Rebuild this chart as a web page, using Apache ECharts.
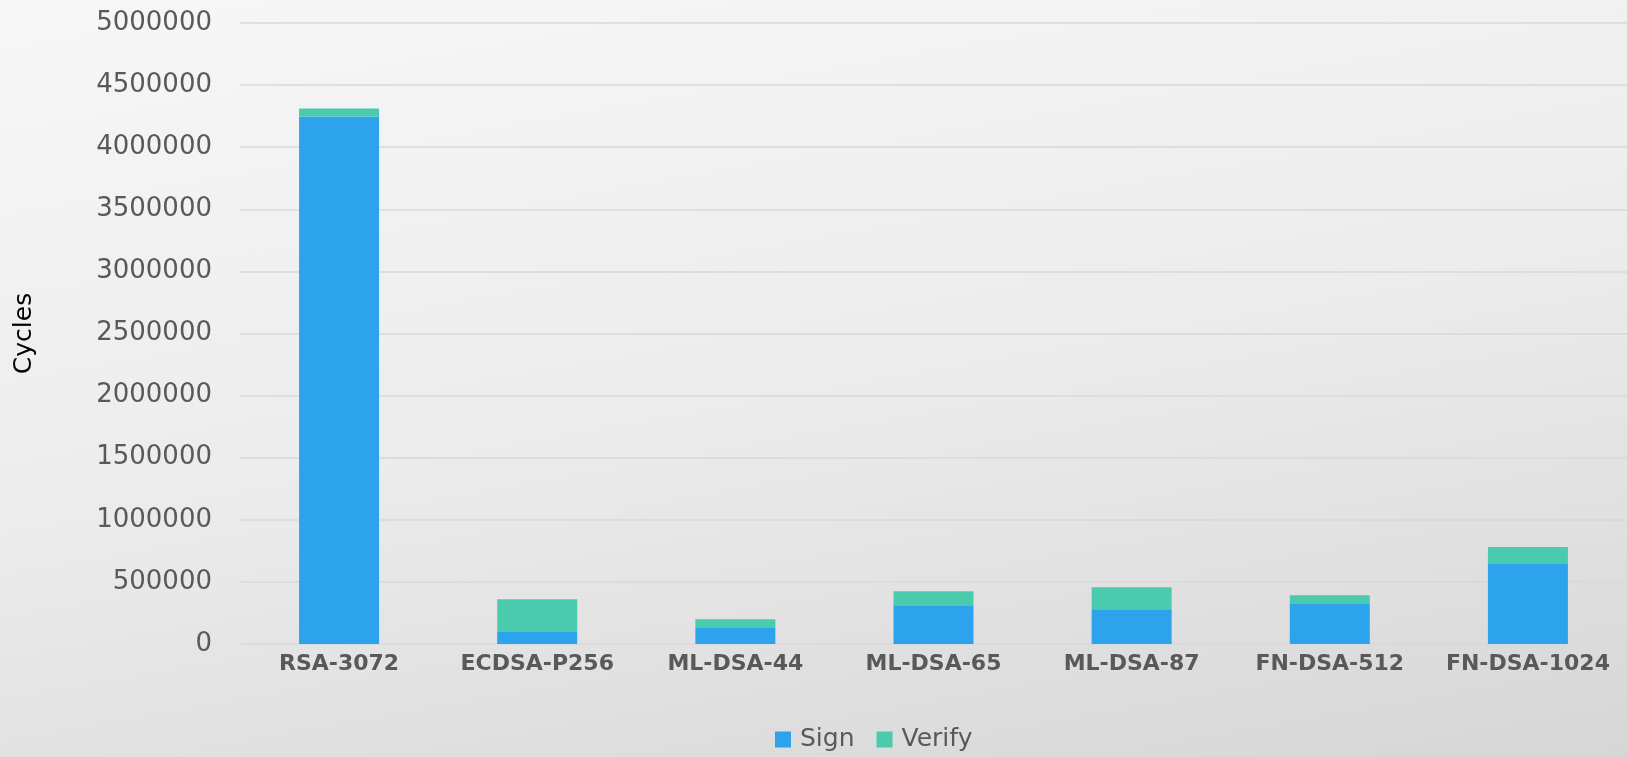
<!DOCTYPE html>
<html>
<head>
<meta charset="utf-8">
<script src="https://cdn.jsdelivr.net/npm/echarts@6/dist/echarts.min.js"></script>
<style>
  html, body { margin: 0; padding: 0; }
  #main {
    width: 1627px; height: 757px;
    background: linear-gradient(170deg, #f7f7f7 0%, #ececec 50%, #d6d6d6 100%);
  }
</style>
</head>
<body>
<div id="main"></div>
<script>
var categories = ['RSA-3072', 'ECDSA-P256', 'ML-DSA-44', 'ML-DSA-65', 'ML-DSA-87', 'FN-DSA-512', 'FN-DSA-1024'];
var signCycles = [4248000, 102000, 135000, 312000, 280000, 328000, 651000];
var verifyCycles = [64000, 258000, 64000, 113000, 177000, 65000, 129000];

var chart = echarts.init(document.getElementById('main'));

var option = {
  animation: false,
  grid: { left: 240, right: 0, top: 23, bottom: 113 },
  legend: {
    data: ['Sign', 'Verify'],
    left: 770,
    bottom: 0,
    itemWidth: 16,
    itemHeight: 16,
    itemGap: 22,
    icon: 'rect',
    textStyle: { fontFamily: 'DejaVu Sans', fontSize: 25, color: '#595959', padding: [0, 0, 0, 4] }
  },
  xAxis: {
    type: 'category',
    data: categories,
    axisLine: { show: false },
    axisTick: { show: false },
    axisLabel: {
      interval: 0,
      hideOverlap: false,
      fontFamily: 'DejaVu Sans', fontSize: 22, fontWeight: 'bold', color: '#595959', margin: 9
    }
  },
  yAxis: {
    type: 'value',
    min: 0,
    max: 5000000,
    interval: 500000,
    name: 'Cycles',
    nameLocation: 'middle',
    nameRotate: 90,
    nameGap: 203,
    nameTextStyle: { fontFamily: 'DejaVu Sans', fontSize: 25, color: '#000' },
    axisLabel: {
      fontFamily: 'DejaVu Sans', fontSize: 26, color: '#595959', margin: 28,
      formatter: function (v) { return String(v); }
    },
    splitLine: { lineStyle: { color: '#d9d9d9', width: 1.5 } }
  },
  series: [
    {
      name: 'Sign', type: 'bar', stack: 'total', data: signCycles,
      barWidth: 80, itemStyle: { color: '#2ea3ed' }
    },
    {
      name: 'Verify', type: 'bar', stack: 'total', data: verifyCycles,
      barWidth: 80, itemStyle: { color: '#4bcbae' }
    }
  ]
};

chart.setOption(option);
</script>
</body>
</html>
